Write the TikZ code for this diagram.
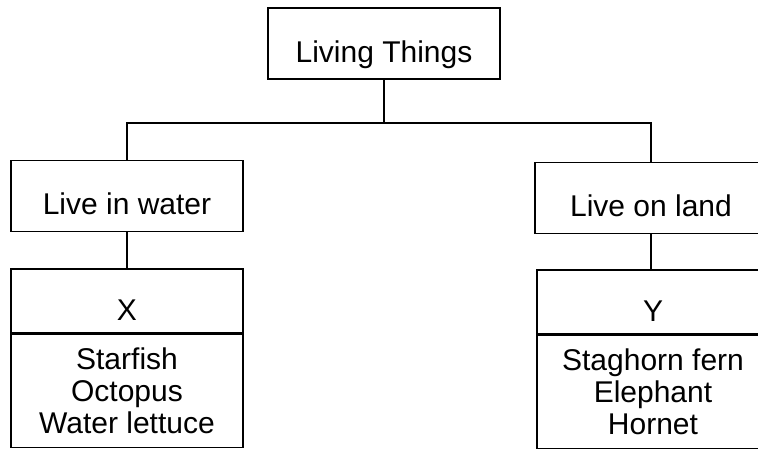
\documentclass[tikz,border=0pt]{standalone}
\usepackage{fontspec}
\setmainfont{Liberation Sans}
\begin{document}
\begin{tikzpicture}[x=1pt,y=-1pt,
    box/.style={draw,line width=1.5pt,inner sep=0pt,minimum width=232pt,
      text height=54pt,text depth=17pt,font=\fontsize{30}{32}\selectfont},
    head/.style={box,text height=52pt,text depth=12pt},
    list/.style={draw,line width=1.5pt,inner sep=0pt,minimum width=232pt,
      minimum height=113pt,align=center,font=\fontsize{30}{32}\selectfont}]
  \useasboundingbox (0,0) rectangle (758,448);
  \draw
    (384,43.5) node[box] (lt){Living Things}
    (127,196) node[box] (water){Live in water}
    (651,198) node[box] (land){Live on land}
    (127,268) node[head,anchor=north] (xhead){X}
    (653,269) node[head,anchor=north] (yhead){Y};
  \draw
    (xhead.south) node[list,anchor=north] (xlist){Starfish\\Octopus\\Water lettuce}
    (yhead.south) node[list,anchor=north] (ylist){Staghorn fern\\Elephant\\Hornet};
  \coordinate (fork) at ([yshift=-43pt]lt.south);
  \begin{scope}[line width=1.5pt]
    \draw (lt.south) -- (fork);
    \draw (fork) -| (water.north);
    \draw (fork) -| (land.north);
    \draw (water.south) -- (xhead.north);
    \draw (land.south) -- (land.south |- yhead.north);
  \end{scope}
\end{tikzpicture}
\end{document}
